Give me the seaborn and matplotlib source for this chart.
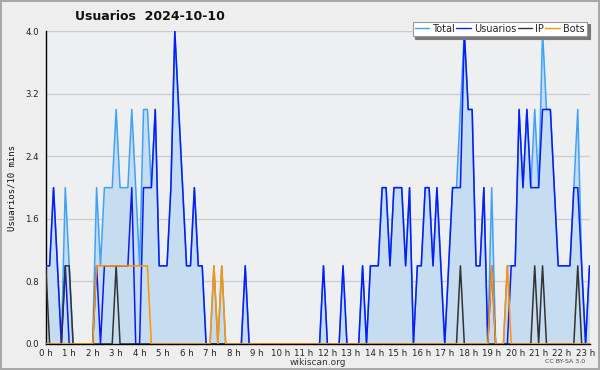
import numpy as np
import pandas as pd
import seaborn as sns
import matplotlib.pyplot as plt
from matplotlib.lines import Line2D

# values per 10 minutes (0h .. 23h10)
usuarios = [1, 1, 2, 1, 0, 1, 0, 0, 0, 0, 0, 0, 0, 1, 0, 1, 1, 1, 1, 1,
            1, 1, 2, 0, 0, 2, 2, 2, 3, 1, 1, 1, 2, 4, 3, 2, 1, 1, 2, 1,
            1, 0, 0, 0, 0, 0, 0, 0, 0, 0, 0, 1, 0, 0, 0, 0, 0, 0, 0, 0,
            0, 0, 0, 0, 0, 0, 0, 0, 0, 0, 0, 1, 0, 0, 0, 0, 1, 0, 0, 0,
            0, 1, 0, 1, 1, 1, 2, 2, 1, 2, 2, 2, 1, 2, 0, 1, 1, 2, 2, 1,
            2, 1, 0, 1, 2, 2, 2, 4, 3, 3, 1, 1, 2, 0, 1, 0, 0, 0, 0, 1,
            1, 3, 2, 3, 2, 2, 2, 3, 3, 3, 2, 1, 1, 1, 1, 2, 2, 1, 0, 1]
total = [1, 1, 2, 1, 0, 2, 1, 0, 0, 0, 0, 0, 0, 2, 1, 2, 2, 2, 3, 2,
         2, 2, 3, 2, 1, 3, 3, 2, 3, 1, 1, 1, 2, 4, 3, 2, 1, 1, 2, 1,
         1, 0, 0, 1, 0, 1, 0, 0, 0, 0, 0, 1, 0, 0, 0, 0, 0, 0, 0, 0,
         0, 0, 0, 0, 0, 0, 0, 0, 0, 0, 0, 1, 0, 0, 0, 0, 1, 0, 0, 0,
         0, 1, 0, 1, 1, 1, 2, 2, 1, 2, 2, 2, 1, 2, 0, 1, 1, 2, 2, 1,
         2, 1, 0, 1, 2, 2, 3, 4, 3, 3, 1, 1, 2, 0, 2, 0, 0, 0, 1, 1,
         1, 3, 2, 3, 2, 3, 2, 4, 3, 3, 2, 1, 1, 1, 1, 2, 3, 1, 0, 1]
ip = [1, 0, 0, 0, 0, 1, 1, 0, 0, 0, 0, 0, 0, 0, 0, 0, 0, 0, 1, 0,
      0, 0, 0, 0, 0, 0, 0, 0, 0, 0, 0, 0, 0, 0, 0, 0, 0, 0, 0, 0,
      0, 0, 0, 0, 0, 0, 0, 0, 0, 0, 0, 0, 0, 0, 0, 0, 0, 0, 0, 0,
      0, 0, 0, 0, 0, 0, 0, 0, 0, 0, 0, 0, 0, 0, 0, 0, 0, 0, 0, 0,
      0, 0, 0, 0, 0, 0, 0, 0, 0, 0, 0, 0, 0, 0, 0, 0, 0, 0, 0, 0,
      0, 0, 0, 0, 0, 0, 1, 0, 0, 0, 0, 0, 0, 0, 0, 0, 0, 0, 0, 0,
      0, 0, 0, 0, 0, 1, 0, 1, 0, 0, 0, 0, 0, 0, 0, 0, 1, 0, 0, 0]
bots = [0, 0, 0, 0, 0, 0, 0, 0, 0, 0, 0, 0, 0, 1, 1, 1, 1, 1, 1, 1,
        1, 1, 1, 1, 1, 1, 1, 0, 0, 0, 0, 0, 0, 0, 0, 0, 0, 0, 0, 0,
        0, 0, 0, 1, 0, 1, 0, 0, 0, 0, 0, 0, 0, 0, 0, 0, 0, 0, 0, 0,
        0, 0, 0, 0, 0, 0, 0, 0, 0, 0, 0, 0, 0, 0, 0, 0, 0, 0, 0, 0,
        0, 0, 0, 0, 0, 0, 0, 0, 0, 0, 0, 0, 0, 0, 0, 0, 0, 0, 0, 0,
        0, 0, 0, 0, 0, 0, 0, 0, 0, 0, 0, 0, 0, 0, 1, 0, 0, 0, 1, 0,
        0, 0, 0, 0, 0, 0, 0, 0, 0, 0, 0, 0, 0, 0, 0, 0, 0, 0, 0, 0]
hour_labels = [f"{h} h" for h in range(24)]
y_ticks = [0.0, 0.8, 1.6, 2.4, 3.2, 4.0]

df = pd.DataFrame({"hora": np.arange(len(total)) / 6,
                   "Total": total, "Usuarios": usuarios, "IP": ip, "Bots": bots})

colors = {"Total": "#3fa2f7", "Usuarios": "#0a1cf5", "IP": "#333333", "Bots": "#ff9400"}

sns.set_style("white")
fig = plt.figure(figsize=(6, 3.7), dpi=100, facecolor="#eeeeee",
                 edgecolor="#a8a8a8", linewidth=1.5)
ax = fig.add_axes([0.0762, 0.0703, 0.9063, 0.8451])
ax.set_facecolor("#eeeff1")

ax.fill_between(df["hora"], df["Total"], color="#c6dcf0", lw=0, zorder=1)
for name in ["Total", "Usuarios", "IP", "Bots"]:
    sns.lineplot(data=df, x="hora", y=name, ax=ax, color=colors[name],
                 lw=1.1, zorder=3)

ax.set_xlim(0, df["hora"].iloc[-1])
ax.set_ylim(0, 4.0)
ax.set_yticks(y_ticks)
ax.set_yticklabels([f"{v:.1f}" for v in y_ticks])
ax.set_yticks(np.arange(0, 4.01, 0.4), minor=True)
ax.set_xticks(range(24))
ax.set_xticklabels(hour_labels)
ax.set_xticks(np.arange(0, df["hora"].iloc[-1] + 0.01, 1 / 6), minor=True)
ax.yaxis.grid(True, color="#cdcdcd", lw=1)
ax.set_axisbelow(True)

for s in ["top", "right"]:
    ax.spines[s].set_visible(False)
for s in ["left", "bottom"]:
    ax.spines[s].set_color("black")
    ax.spines[s].set_linewidth(1)
ax.tick_params(which="major", direction="out", length=4, width=1, labelsize=6.2,
               pad=1, colors="black", labelcolor="#222222")
ax.tick_params(axis="x", which="major", pad=-0.5)
ax.tick_params(which="minor", direction="out", length=3, width=0.8, colors="black")

ax.set_xlabel("wikiscan.org", fontsize=6.5, labelpad=0, color="#333333")
ax.set_ylabel("Usuarios/10 mins", fontsize=6.5, family="DejaVu Sans Mono",
              labelpad=6, color="#111111")

fig.text(0.25, 0.955, "Usuarios  2024-10-10", ha="center", va="center",
         fontsize=9, fontweight="bold", color="#111111")
fig.text(0.975, 0.022, "CC BY-SA 3.0", ha="right", va="center", fontsize=4.5,
         color="#444444")

handles = [Line2D([], [], color=colors[n], lw=1) for n in colors]
leg = ax.legend(handles, list(colors), ncol=4, loc="upper right",
                bbox_to_anchor=(0.986, 0.955), bbox_transform=fig.transFigure,
                fontsize=7, frameon=True, fancybox=False, handlelength=1.5,
                handletextpad=0.3, columnspacing=0.15, borderpad=0.22,
                shadow={"color": "#777777", "alpha": 1})
leg.get_frame().set_facecolor("white")
leg.get_frame().set_edgecolor("#999999")
leg.get_frame().set_linewidth(0.8)
leg.set_zorder(10)

fig.savefig("out.png", dpi=100, facecolor=fig.get_facecolor(),
            edgecolor=fig.get_edgecolor())
